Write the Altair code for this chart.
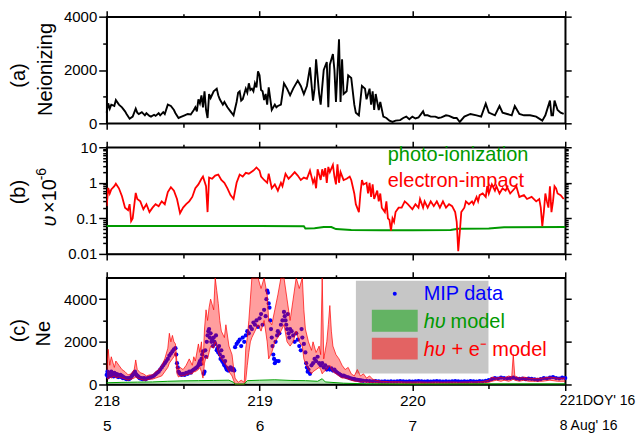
import json
import altair as alt
import pandas as pd

FONT = "Liberation Sans"
W, H = 460, 107

# ---------------- panel (a): Ne ionizing ----------------
t_a = [218.00, 218.01, 218.02, 218.03, 218.05, 218.06, 218.08, 218.10, 218.12, 218.13,
       218.15, 218.17, 218.19, 218.20, 218.21, 218.23, 218.25, 218.26, 218.28, 218.29,
       218.31, 218.32, 218.34, 218.35, 218.37, 218.38, 218.40, 218.42, 218.44, 218.45,
       218.47, 218.49, 218.51, 218.53, 218.55, 218.57, 218.58, 218.59, 218.60, 218.61,
       218.62, 218.63, 218.64, 218.65, 218.66, 218.67, 218.68, 218.70, 218.72, 218.73,
       218.74, 218.76, 218.77, 218.79, 218.81, 218.83, 218.85, 218.86, 218.87, 218.88,
       218.89, 218.91, 218.92, 218.93, 218.94, 218.95, 218.96, 218.97, 218.98, 218.99,
       219.00, 219.01, 219.02, 219.03, 219.04, 219.05, 219.06, 219.08, 219.10, 219.11,
       219.12, 219.14, 219.16, 219.18, 219.20, 219.22, 219.25, 219.27, 219.29, 219.31,
       219.33, 219.35, 219.36, 219.37, 219.39, 219.40, 219.42, 219.44, 219.45, 219.46,
       219.48, 219.49, 219.50, 219.52, 219.53, 219.54, 219.55, 219.57, 219.58, 219.60,
       219.62, 219.63, 219.65, 219.67, 219.69, 219.70, 219.72, 219.73, 219.74, 219.75,
       219.76, 219.78, 219.79, 219.81, 219.83, 219.85, 219.87, 219.89, 219.92, 219.94,
       219.96, 219.98, 220.00, 220.02, 220.04, 220.07, 220.08, 220.10, 220.12, 220.15,
       220.17, 220.19, 220.22, 220.24, 220.27, 220.29, 220.31, 220.34, 220.38, 220.42,
       220.45, 220.48, 220.50, 220.54, 220.57, 220.59, 220.62, 220.65, 220.67, 220.70,
       220.73, 220.77, 220.81, 220.85, 220.87, 220.90, 220.91, 220.92, 220.93, 220.95,
       220.97, 220.99]
ne_a = [400, 750, 550, 700, 650, 870, 700, 600, 450, 350,
        170, 250, 550, 400, 350, 420, 300, 380, 280, 250,
        320, 280, 380, 300, 420, 350, 700, 650, 500, 380,
        200, 250, 300, 350, 330, 500, 600, 450, 900, 750,
        1050, 600, 1200, 500, 200, 1100, 950, 1200, 1300, 1050,
        900, 700, 800, 600, 450, 300, 800, 1150, 1200, 850,
        900, 1300, 1150, 1500, 1250, 1300, 1200, 1500, 1350, 1950,
        1800, 1250, 1200, 870, 1100, 700, 1350, 500, 700, 600,
        650, 700, 1500, 1300, 1050, 1300, 1600, 1400, 1100, 1400,
        2100, 850, 1300, 2400, 1100, 700, 2000, 2300, 600, 2200,
        2600, 2000, 800, 3150, 800, 2400, 1100, 1200, 1800, 1700,
        700, 400, 300, 1400, 1300, 900, 1300, 700, 1200, 500,
        1100, 500, 800, 250, 200, 100, 50, 100, 120, 200,
        250, 150, 250, 180, 220, 450, 300, 300, 250, 250,
        200, 220, 300, 280, 200, 200, 50, 250, 350, 300,
        250, 740, 400, 300, 650, 400, 350, 300, 650, 350,
        300, 300, 250, 100, 300, 850, 300, 300, 850, 500,
        400, 350]

# ---------------- panel (b): ionization frequencies ----------------
t_e = [218.00, 218.01, 218.02, 218.03, 218.05, 218.06, 218.08, 218.10, 218.12, 218.14,
       218.15, 218.16, 218.17, 218.19, 218.20, 218.22, 218.24, 218.26, 218.28, 218.30,
       218.32, 218.34, 218.36, 218.38, 218.40, 218.42, 218.44, 218.46, 218.48, 218.50,
       218.52, 218.54, 218.56, 218.58, 218.60, 218.62, 218.63, 218.65, 218.66, 218.67,
       218.69, 218.71, 218.73, 218.75, 218.77, 218.79, 218.81, 218.83, 218.85, 218.87,
       218.89, 218.91, 218.93, 218.96, 218.98, 219.00, 219.01, 219.03, 219.05, 219.06,
       219.08, 219.10, 219.12, 219.14, 219.15, 219.17, 219.19, 219.21, 219.23, 219.25,
       219.27, 219.29, 219.31, 219.33, 219.35, 219.36, 219.37, 219.38, 219.40, 219.41,
       219.42, 219.43, 219.44, 219.45, 219.46, 219.48, 219.49, 219.50, 219.51, 219.52,
       219.53, 219.55, 219.57, 219.59, 219.60, 219.62, 219.63, 219.65, 219.66, 219.67,
       219.68, 219.70, 219.71, 219.72, 219.73, 219.74, 219.75, 219.77, 219.78, 219.79,
       219.80, 219.82, 219.83, 219.84, 219.85, 219.86, 219.87, 219.88, 219.89, 219.91,
       219.93, 219.95, 219.97, 220.00, 220.02, 220.04, 220.05, 220.07, 220.08, 220.10,
       220.12, 220.14, 220.16, 220.18, 220.20, 220.22, 220.24, 220.26, 220.28, 220.29,
       220.30, 220.31, 220.32, 220.34, 220.35, 220.37, 220.39, 220.40, 220.42, 220.43,
       220.44, 220.46, 220.48, 220.49, 220.50, 220.52, 220.54, 220.55, 220.57, 220.59,
       220.61, 220.62, 220.64, 220.67, 220.68, 220.70, 220.73, 220.75, 220.78, 220.81,
       220.83, 220.84, 220.85, 220.86, 220.87, 220.88, 220.89, 220.90, 220.91, 220.92,
       220.93, 220.94, 220.95, 220.97, 220.99]
nu_e = [0.22, 0.72, 0.5, 0.65, 0.8, 0.94, 0.7, 0.42, 0.2, 0.17,
        0.25, 0.084, 0.1, 0.52, 0.35, 0.3, 0.18, 0.25, 0.15, 0.2,
        0.25, 0.22, 0.3, 0.25, 0.55, 0.75, 0.6, 0.35, 0.14, 0.2,
        0.25, 0.3, 0.4, 0.7, 0.9, 1.3, 1.5, 0.8, 0.15, 1.4,
        1.3, 1.6, 1.7, 1.2, 1.0, 0.7, 0.45, 0.35, 1.0, 1.7,
        1.5, 1.9, 1.8, 2.2, 2.7, 2.2, 1.5, 1.2, 1.0, 1.8,
        0.7, 0.9, 0.6, 1.0, 0.8, 1.8, 1.3, 1.6, 2.0, 1.6,
        1.2, 1.4, 1.3, 2.2, 1.0, 1.3, 0.7, 2.4, 1.2, 2.4,
        1.5, 2.6, 1.0, 2.8, 2.0, 3.2, 1.5, 0.9, 3.3, 1.0,
        2.0, 1.2, 1.3, 1.5, 1.2, 0.5, 0.25, 0.15, 0.5, 1.2,
        0.9, 1.0, 0.5, 1.0, 0.4, 0.9, 0.35, 0.6, 0.3, 0.5,
        0.2, 0.15, 0.3, 0.1, 0.09, 0.045, 0.1, 0.08, 0.15, 0.2,
        0.2, 0.3, 0.25, 0.18, 0.25, 0.2, 0.35, 0.2, 0.3, 0.2,
        0.3, 0.22, 0.3, 0.2, 0.3, 0.2, 0.25, 0.22, 0.15, 0.08,
        0.012, 0.04, 0.15, 0.2, 0.3, 0.25, 0.3, 0.25, 0.4, 0.3,
        0.45, 0.5, 0.4, 0.8, 0.5, 0.9, 0.6, 0.8, 0.5, 0.7,
        0.6, 0.75, 0.5, 0.7, 0.8, 0.4, 0.45, 0.35, 0.4, 0.3,
        0.35, 0.2, 0.06, 0.15, 0.5, 0.3, 0.2, 0.8, 0.15, 0.3,
        0.8, 0.7, 0.5, 0.45, 0.35]

t_p = [218.00, 218.60, 219.00, 219.29, 219.30, 219.36, 219.42, 219.47, 219.50,
       219.60, 219.80, 220.00, 220.25, 220.30, 220.50, 220.60, 221.00]
nu_p = [0.061, 0.061, 0.061, 0.06, 0.052, 0.053, 0.057, 0.057, 0.05,
        0.047, 0.046, 0.046, 0.047, 0.051, 0.052, 0.056, 0.057]

# ---------------- panel (c): Ne data and models ----------------
t_mip = [218.000, 218.005, 218.010, 218.015, 218.020, 218.025, 218.030, 218.035, 218.040, 218.045,
         218.050, 218.055, 218.060, 218.065, 218.070, 218.075, 218.080, 218.085, 218.090, 218.095,
         218.100, 218.105, 218.110, 218.115, 218.120, 218.125, 218.130, 218.135, 218.140, 218.145,
         218.150, 218.155, 218.160, 218.165, 218.170, 218.175, 218.180, 218.185, 218.190, 218.195,
         218.200, 218.205, 218.210, 218.215, 218.220, 218.225, 218.230, 218.235, 218.240, 218.245,
         218.250, 218.255, 218.260, 218.270, 218.280, 218.290, 218.300, 218.310, 218.320, 218.330,
         218.340, 218.350, 218.360, 218.370, 218.380, 218.390, 218.400, 218.410, 218.420, 218.430,
         218.440, 218.450, 218.455, 218.460, 218.465, 218.470, 218.475, 218.480, 218.490, 218.500,
         218.510, 218.520, 218.530, 218.540, 218.550, 218.560, 218.570, 218.580, 218.590, 218.600,
         218.605, 218.610, 218.615, 218.620, 218.625, 218.630, 218.635, 218.640, 218.645, 218.650,
         218.655, 218.660, 218.665, 218.670, 218.675, 218.680, 218.685, 218.690, 218.695, 218.700,
         218.705, 218.710, 218.715, 218.720, 218.725, 218.730, 218.735, 218.740, 218.745, 218.750,
         218.755, 218.760, 218.765, 218.770, 218.775, 218.780, 218.785, 218.790, 218.795, 218.800,
         218.810, 218.815, 218.820, 218.825, 218.830, 218.835, 218.840, 218.850, 218.860, 218.870,
         218.880, 218.890, 218.900, 218.910, 218.920, 218.930, 218.940, 218.950, 218.960, 218.970,
         218.980, 218.990, 219.000, 219.010, 219.020, 219.030, 219.040, 219.045, 219.050, 219.055,
         219.060, 219.065, 219.070, 219.075, 219.080, 219.085, 219.090, 219.095, 219.100, 219.105,
         219.110, 219.115, 219.120, 219.125, 219.130, 219.140, 219.150, 219.160, 219.165, 219.170,
         219.175, 219.180, 219.185, 219.190, 219.195, 219.200, 219.210, 219.220, 219.230, 219.240,
         219.250, 219.260, 219.270, 219.275, 219.280, 219.290, 219.300, 219.305, 219.310, 219.315,
         219.320, 219.330, 219.340, 219.350, 219.360, 219.370, 219.380, 219.390, 219.400, 219.410,
         219.420, 219.430, 219.440, 219.450, 219.460, 219.470, 219.480, 219.490, 219.500, 219.510,
         219.520, 219.530, 219.540, 219.550, 219.560, 219.570, 219.580, 219.590, 219.600, 219.610,
         219.620, 219.630, 219.640, 219.650, 219.660, 219.670, 219.680, 219.700, 219.720, 219.740,
         219.760, 219.780, 219.800, 219.820, 219.840, 219.860, 219.880, 219.900, 219.920, 219.940,
         219.960, 219.980, 220.000, 220.020, 220.040, 220.060, 220.080, 220.100, 220.120, 220.140,
         220.160, 220.180, 220.200, 220.220, 220.240, 220.260, 220.280, 220.300, 220.320, 220.340,
         220.360, 220.380, 220.400, 220.420, 220.440, 220.460, 220.480, 220.500, 220.520, 220.540,
         220.560, 220.580, 220.600, 220.620, 220.640, 220.660, 220.680, 220.700, 220.720, 220.740,
         220.760, 220.780, 220.800, 220.820, 220.840, 220.860, 220.880, 220.900, 220.920, 220.940,
         220.960, 220.980, 221.000]
ne_mip = [450, 600, 350, 500, 550, 400, 600, 450, 500, 380,
          550, 450, 500, 400, 480, 350, 420, 380, 450, 350,
          400, 300, 350, 320, 280, 300, 250, 270, 300, 250,
          280, 300, 350, 400, 450, 500, 550, 600, 500, 450,
          400, 380, 350, 300, 280, 300, 270, 250, 280, 300,
          260, 240, 280, 300, 320, 350, 380, 420, 480, 550,
          600, 700, 800, 900, 1000, 1100, 1200, 1350, 1450, 1550,
          1650, 1700, 1400, 1000, 800, 600, 550, 500, 450, 500,
          450, 550, 500, 600, 550, 650, 700, 750, 800, 900,
          1000, 1100, 950, 1200, 1400, 1550, 500, 600, 1600, 1300,
          2000, 2300, 2500, 2600, 2200, 2400, 2000, 2100, 1800, 2200,
          2000, 1900, 2300, 1600, 1700, 1500, 1800, 1400, 1200, 1600,
          1100, 1300, 1000, 900, 1100, 800, 700, 750, 650, 700,
          800, 700, 750, 680, 720, 650, 1750, 1900, 2000, 2100,
          1800, 2200, 2000, 2300, 2500, 2400, 2700, 2600, 2900, 2800,
          3000, 2700, 3100, 3300, 2800, 3500, 3200, 4000, 4400, 4300,
          3800, 3600, 3000, 2600, 2200, 1800, 1400, 1200, 1000, 2000,
          1100, 2300, 2500, 1100, 2400, 2800, 3000, 3400, 3200, 3000,
          2800, 2600, 3300, 2400, 2200, 2600, 2500, 2300, 2000, 2400,
          2100, 1800, 1600, 2600, 2200, 1900, 1500, 1000, 800, 600,
          700, 500, 900, 1000, 1200, 1100, 1300, 1000, 900, 1000,
          800, 900, 700, 800, 700, 750, 650, 700, 600, 550,
          500, 450, 400, 420, 380, 350, 330, 300, 280, 260,
          250, 230, 220, 200, 190, 180, 170, 170, 160, 150,
          160, 150, 140, 150, 140, 150, 140, 150, 160, 150,
          140, 150, 140, 150, 160, 150, 140, 150, 140, 150,
          160, 150, 140, 150, 140, 150, 160, 150, 140, 150,
          140, 160, 150, 140, 160, 150, 170, 200, 250, 300,
          280, 320, 300, 280, 300, 320, 280, 260, 280, 250,
          270, 260, 240, 220, 250, 300, 280, 320, 350, 300,
          280, 320, 300]

t_m = [218.00, 218.01, 218.02, 218.03, 218.05, 218.06, 218.08, 218.10, 218.12, 218.14,
       218.16, 218.18, 218.19, 218.20, 218.22, 218.24, 218.26, 218.28, 218.30, 218.32,
       218.34, 218.36, 218.38, 218.40, 218.41, 218.42, 218.43, 218.44, 218.45, 218.46,
       218.47, 218.48, 218.50, 218.52, 218.54, 218.56, 218.57, 218.58, 218.60, 218.61,
       218.62, 218.63, 218.64, 218.65, 218.66, 218.67, 218.68, 218.70, 218.71, 218.72,
       218.73, 218.74, 218.75, 218.77, 218.78, 218.80, 218.82, 218.83, 218.84, 218.86,
       218.88, 218.90, 218.91, 218.92, 218.93, 218.94, 218.95, 218.97, 218.99, 219.01,
       219.03, 219.05, 219.06, 219.08, 219.10, 219.12, 219.14, 219.16, 219.18, 219.20,
       219.22, 219.24, 219.26, 219.28, 219.29, 219.30, 219.32, 219.34, 219.35, 219.37,
       219.39, 219.40, 219.41, 219.42, 219.44, 219.45, 219.46, 219.47, 219.48, 219.50,
       219.52, 219.54, 219.56, 219.58, 219.60, 219.62, 219.64, 219.66, 219.68, 219.70,
       219.72, 219.74, 219.76, 219.80, 219.85, 219.90, 219.95, 220.00, 220.05, 220.10,
       220.15, 220.20, 220.25, 220.30, 220.35, 220.40, 220.45, 220.50, 220.52, 220.55,
       220.58, 220.60, 220.63, 220.65, 220.66, 220.67, 220.70, 220.73, 220.76, 220.80,
       220.85, 220.90, 220.95, 221.00]
e_lo = [300, 250, 350, 300, 400, 300, 350, 300, 250, 200,
        250, 300, 350, 300, 250, 200, 200, 250, 250, 300,
        350, 400, 600, 800, 1000, 1100, 1200, 1300, 1500, 500,
        350, 400, 400, 450, 500, 500, 600, 600, 700, 800,
        600, 300, 1000, 1300, 1200, 1500, 1800, 1700, 2000, 1800,
        1500, 1300, 1200, 1000, 900, 600, 400, 200, 0, 0,
        0, 0, 200, 900, 1500, 2000, 2200, 2500, 2800, 2500,
        3000, 2000, 1200, 1500, 2000, 2200, 2500, 2800, 2000, 1800,
        2000, 2500, 2000, 1800, 1200, 1000, 700, 500, 600, 700,
        800, 700, 500, 600, 700, 800, 900, 700, 600, 500,
        400, 300, 300, 250, 200, 150, 150, 100, 120, 100,
        100, 80, 80, 60, 60, 60, 50, 50, 50, 50,
        50, 50, 50, 50, 50, 50, 60, 100, 150, 200,
        150, 200, 150, 200, 250, 200, 150, 200, 150, 150,
        150, 200, 150, 150]
e_hi = [700, 1650, 900, 1300, 800, 1100, 900, 700, 600, 450,
        500, 700, 1150, 700, 550, 500, 400, 450, 450, 600,
        700, 900, 1200, 1700, 2400, 2000, 2300, 2000, 1900, 1000,
        700, 800, 700, 900, 1200, 900, 1300, 1100, 1900, 1500,
        2000, 900, 2600, 3500, 3000, 3600, 4000, 3500, 5000, 4400,
        3800, 3000, 2500, 2200, 2800, 1800, 1400, 800, 300, 100,
        200, 100, 1700, 2200, 3000, 4000, 5000, 5000, 5000, 4500,
        5000, 4200, 3000, 2800, 3500, 4200, 5000, 5000, 4000, 3000,
        4000, 5000, 4500, 5000, 3500, 2600, 2000, 1600, 2000, 1500,
        1800, 1400, 5000, 1200, 2000, 2800, 3700, 2500, 1800, 1400,
        1200, 900, 700, 800, 500, 400, 700, 400, 500, 300,
        400, 250, 200, 150, 130, 130, 120, 120, 120, 110,
        120, 110, 120, 110, 120, 120, 130, 200, 350, 300,
        350, 300, 400, 350, 1400, 400, 300, 350, 300, 280,
        300, 350, 300, 300]

t_hv = [218.00, 218.10, 218.20, 218.30, 218.40, 218.50, 218.60, 218.70, 218.80, 218.83,
        218.84, 218.90, 218.92, 219.00, 219.10, 219.20, 219.30, 219.38, 219.41, 219.43,
        219.55, 219.70, 220.00, 220.50, 221.00]
hv_lo = [20, 30, 30, 40, 50, 60, 70, 70, 60, 30,
         0, 0, 50, 60, 60, 50, 50, 40, 40, 30,
         10, 0, 0, 0, 0]
hv_hi = [80, 100, 110, 120, 150, 170, 180, 190, 200, 100,
         20, 20, 180, 200, 220, 190, 180, 150, 270, 120,
         60, 30, 20, 30, 30]

# ---------------- axes: ticks and tick labels ----------------
x_ticks = [218, 218.5, 219, 219.5, 220, 220.5, 221]
x_major = [218, 219, 220, 221]
doy_labels = ["218", "219", "220", "221DOY' 16"]
date_labels = ["5", "6", "7", "8 Aug' 16"]

ya_ticks = [0, 1000, 2000, 3000, 4000]
ya_major = [0, 2000, 4000]
ya_labels = ["0", "2000", "4000"]

yb_ticks = [0.01, 0.02, 0.03, 0.04, 0.05, 0.06, 0.07, 0.08, 0.09,
            0.1, 0.2, 0.3, 0.4, 0.5, 0.6, 0.7, 0.8, 0.9,
            1, 2, 3, 4, 5, 6, 7, 8, 9, 10]
yb_major = [0.01, 0.1, 1, 10]
yb_labels = ["0.01", "0.1", "1", "10"]

yc_ticks = [0, 1000, 2000, 3000, 4000]
yc_major = [0, 2000, 4000]
yc_labels = ["0", "2000", "4000"]


def lab_expr(vals, labels):
    parts = [f"datum.value == {v} ? {json.dumps(l)}" for v, l in zip(vals, labels)]
    return " : ".join(parts) + " : ''"


def tick_cond(major, big, small):
    return {"condition": {"test": f"indexof({json.dumps(major)}, datum.value) >= 0", "value": big},
            "value": small}


def last_cond(a, b):
    return {"condition": {"test": "datum.value == 221", "value": a}, "value": b}


x_scale = alt.Scale(domain=[218, 221], nice=False, zero=False)


def x_axis_bottom(with_labels):
    kw = dict(values=x_ticks, title=None, grid=False, tickSize=tick_cond(x_major, 6, 4),
              orient="bottom")
    if with_labels:
        kw.update(labelExpr=lab_expr(x_major, [[a, b] for a, b in zip(doy_labels, date_labels)]),
                  labelAlign=last_cond("left", "center"),
                  labelOffset=last_cond(-6, 0),
                  labelFontSize=last_cond(14, 15.5),
                  labelLineHeight=25, labelPadding=3, labelBaseline="top",
                  labelFlush=False, labelOverlap=False, labelBound=False)
    else:
        kw.update(labels=False)
    return alt.Axis(**kw)


def x_axis_top():
    return alt.Axis(values=x_ticks, title=None, grid=False, labels=False,
                    tickSize=tick_cond(x_major, 6, 3), orient="top")


def y_axis_left(ticks, major, labels):
    return alt.Axis(values=ticks, title=None, grid=False, orient="left",
                    labelExpr=lab_expr(major, labels), tickSize=tick_cond(major, 8, 4),
                    labelPadding=2, labelFontSize=15, labelFlush=False, labelOverlap=False,
                    labelBound=False)


def y_axis_right(ticks, major):
    return alt.Axis(values=ticks, title=None, grid=False, labels=False, orient="right",
                    tickSize=tick_cond(major, 6, 3))


def text_at(txt, x, y, size=20, angle=0, color="black", align="center",
            baseline="middle", style="normal"):
    return alt.Chart(pd.DataFrame({"s": [txt]})).mark_text(
        fontSize=size, font=FONT, angle=angle, color=color, align=align,
        baseline=baseline, fontStyle=style).encode(
        text="s:N", x=alt.value(x), y=alt.value(y))


# ---------------- panel (a) ----------------
df_a = pd.DataFrame({"t": t_a, "v": ne_a})
ya_scale = alt.Scale(domain=[0, 4000], nice=False)
line_a = alt.Chart(df_a).mark_line(color="black", strokeWidth=1.9).encode(
    x=alt.X("t:Q", scale=x_scale, axis=x_axis_bottom(False)),
    y=alt.Y("v:Q", scale=ya_scale, axis=y_axis_left(ya_ticks, ya_major, ya_labels)))
mirror_a = alt.Chart(df_a).mark_point(opacity=0).encode(
    x=alt.X("t:Q", scale=x_scale, axis=x_axis_top()),
    y=alt.Y("v:Q", scale=ya_scale, axis=y_axis_right(ya_ticks, ya_major)))
panel_a = alt.layer(
    line_a, mirror_a,
    text_at("(a)", -88, 59, angle=270),
    text_at("Neionizing", -61, 53, angle=270),
).resolve_axis(x="independent", y="independent").properties(width=W, height=H)

# ---------------- panel (b) ----------------
df_e = pd.DataFrame({"t": t_e, "v": nu_e})
df_p = pd.DataFrame({"t": t_p, "v": nu_p})
yb_scale = alt.Scale(type="log", domain=[0.01, 10], nice=False)
line_p = alt.Chart(df_p).mark_line(color="#009900", strokeWidth=2).encode(
    x=alt.X("t:Q", scale=x_scale, axis=x_axis_bottom(False)),
    y=alt.Y("v:Q", scale=yb_scale, axis=y_axis_left(yb_ticks, yb_major, yb_labels)))
line_e = alt.Chart(df_e).mark_line(color="#ff0000", strokeWidth=1.8, clip=True).encode(
    x=alt.X("t:Q", scale=x_scale, axis=None),
    y=alt.Y("v:Q", scale=yb_scale, axis=None))
mirror_b = alt.Chart(df_p).mark_point(opacity=0).encode(
    x=alt.X("t:Q", scale=x_scale, axis=x_axis_top()),
    y=alt.Y("v:Q", scale=yb_scale, axis=y_axis_right(yb_ticks, yb_major)))
panel_b = alt.layer(
    line_p, line_e, mirror_b,
    text_at("photo-ionization", 282, 14, size=20, color="#009900", align="left", baseline="alphabetic"),
    text_at("electron-impact", 282, 40, size=20, color="#ff0000", align="left", baseline="alphabetic"),
    text_at("(b)", -88, 45, angle=270),
    text_at("\u03c5", -57, 74, angle=270, style="italic"),
    text_at("\u00d710", -57, 49, angle=270),
    text_at("-6", -65, 27, size=14, angle=270),
).resolve_axis(x="independent", y="independent").properties(width=W, height=H)

# ---------------- panel (c) ----------------
df_mip = pd.DataFrame({"t": t_mip, "v": ne_mip})
df_m = pd.DataFrame({"t": t_m, "lo": e_lo, "hi": e_hi})
df_hv = pd.DataFrame({"t": t_hv, "lo": hv_lo, "hi": hv_hi})
yc_scale = alt.Scale(domain=[0, 5000], nice=False)

legend_box = alt.Chart(pd.DataFrame({"k": [0]})).mark_rect(color="#c6c6c6").encode(
    x=alt.value(250), x2=alt.value(383), y=alt.value(3), y2=alt.value(96))
pts = alt.Chart(df_mip).mark_circle(color="#0000ff", size=18, opacity=1).encode(
    x=alt.X("t:Q", scale=x_scale, axis=x_axis_bottom(True)),
    y=alt.Y("v:Q", scale=yc_scale, axis=y_axis_left(yc_ticks, yc_major, yc_labels)))
area_e = alt.Chart(df_m).mark_area(color="#ff0000", opacity=0.38, clip=True).encode(
    x=alt.X("t:Q", scale=x_scale, axis=None),
    y=alt.Y("lo:Q", scale=yc_scale, axis=None), y2="hi:Q")
hi_e = alt.Chart(df_m).mark_line(color="#ff0000", strokeWidth=0.7, clip=True).encode(
    x=alt.X("t:Q", scale=x_scale, axis=None),
    y=alt.Y("hi:Q", scale=yc_scale, axis=None))
lo_e = alt.Chart(df_m).mark_line(color="#ff0000", strokeWidth=0.7, clip=True).encode(
    x=alt.X("t:Q", scale=x_scale, axis=None),
    y=alt.Y("lo:Q", scale=yc_scale, axis=None))
area_hv = alt.Chart(df_hv).mark_area(color="#00a000", opacity=0.3).encode(
    x=alt.X("t:Q", scale=x_scale, axis=None),
    y=alt.Y("lo:Q", scale=yc_scale, axis=None), y2="hi:Q")
hi_hv = alt.Chart(df_hv).mark_line(color="#00a000", strokeWidth=1).encode(
    x=alt.X("t:Q", scale=x_scale, axis=None),
    y=alt.Y("hi:Q", scale=yc_scale, axis=None))
mirror_c = alt.Chart(df_mip).mark_point(opacity=0).encode(
    x=alt.X("t:Q", scale=x_scale, axis=x_axis_top()),
    y=alt.Y("v:Q", scale=yc_scale, axis=y_axis_right(yc_ticks, yc_major)))

leg_dot = alt.Chart(pd.DataFrame({"k": [0]})).mark_circle(color="#0000ff", size=16, opacity=1).encode(
    x=alt.value(289), y=alt.value(16))
leg_g = alt.Chart(pd.DataFrame({"k": [0]})).mark_rect(color="#00a000", opacity=0.5).encode(
    x=alt.value(266), x2=alt.value(312), y=alt.value(32), y2=alt.value(54))
leg_r = alt.Chart(pd.DataFrame({"k": [0]})).mark_rect(color="#ff0000", opacity=0.5).encode(
    x=alt.value(266), x2=alt.value(312), y=alt.value(60), y2=alt.value(82))

panel_c = alt.layer(
    legend_box, pts, area_e, hi_e, lo_e, area_hv, hi_hv, mirror_c,
    leg_dot, leg_g, leg_r,
    text_at("MIP data", 318, 16, size=20, color="#0000ff", align="left"),
    text_at("h\u03c5", 318, 44, size=20, color="#009900", align="left", style="italic"),
    text_at("model", 345, 44, size=20, color="#009900", align="left"),
    text_at("h\u03c5", 318, 72, size=20, color="#ff0000", align="left", style="italic"),
    text_at("+ e\u207b model", 346, 72, size=20, color="#ff0000", align="left"),
    text_at("(c)", -88, 53, angle=270),
    text_at("Ne", -63, 56, angle=270),
).resolve_axis(x="independent", y="independent").properties(width=W, height=H)

chart = alt.vconcat(panel_a, panel_b, panel_c, spacing=24, bounds="flush").configure_view(
    stroke="black", strokeWidth=1.5
).configure_axis(
    domainColor="black", domainWidth=1.5, tickColor="black", tickWidth=1.5,
    labelFont=FONT, labelColor="black", labelFontSize=15
).properties(
    padding={"left": 0, "top": 0, "right": 0, "bottom": 0}, background="white"
)

chart.save("out.html", embed_options={"renderer": "svg", "actions": False})
